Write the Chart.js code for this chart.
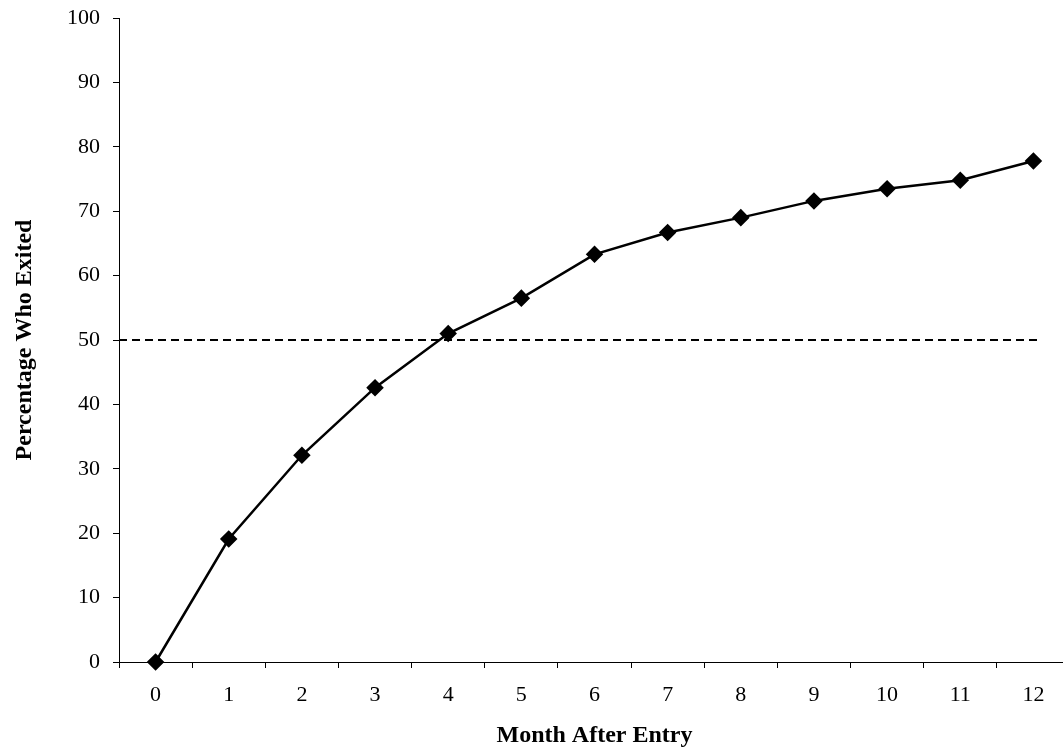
<!DOCTYPE html>
<html lang="en">

<head>
    <meta charset="utf-8" />
    <title>Percentage Who Exited</title>
    <script src="https://cdn.jsdelivr.net/npm/chart.js"></script>
    <style>
        html, body { margin: 0; padding: 0; background: #fff; overflow: hidden; }
        #wrap { width: 1075px; height: 750px; position: relative; }
    </style>
</head>

<body>
    <div id="wrap"><canvas id="chart"></canvas></div>

    <script>
        // months after entry (x categories)
        const months = ['0', '1', '2', '3', '4', '5', '6', '7', '8', '9', '10', '11', '12'];
        // percentage who exited
        const exited = [0, 19.1, 32.1, 42.6, 51.0, 56.5, 63.3, 66.7, 69.0, 71.6, 73.5, 74.8, 77.8];
        // reference line (half exited)
        const halfLine = 50;
        const yTicks = [0, 10, 20, 30, 40, 50, 60, 70, 80, 90, 100];

        const serif = '"Liberation Serif", "Times New Roman", serif';

        // dashed line at 50 from the y axis to just past the last point
        const refLine = {
            id: 'refLine',
            beforeDatasetsDraw(chart) {
                const { ctx, chartArea, scales } = chart;
                const y = Math.round(scales.y.getPixelForValue(halfLine));
                const xEnd = scales.x.getPixelForValue(months.length - 1) + 5;
                ctx.save();
                ctx.strokeStyle = '#000';
                ctx.lineWidth = 2;
                ctx.setLineDash([8, 5]);
                ctx.beginPath();
                ctx.moveTo(chartArea.left, y);
                ctx.lineTo(xEnd, y);
                ctx.stroke();
                ctx.restore();
            }
        };

        new Chart(document.getElementById('chart'), {
            type: 'line',
            data: {
                labels: months,
                datasets: [{
                    label: 'Percentage Who Exited',
                    data: exited,
                    borderColor: '#000',
                    backgroundColor: '#000',
                    borderWidth: 2.5,
                    pointStyle: 'rectRot',
                    pointRadius: 7,
                    pointHoverRadius: 7,
                    fill: false,
                    tension: 0,
                    clip: false
                }]
            },
            options: {
                responsive: true,
                maintainAspectRatio: false,
                animation: false,
                devicePixelRatio: 1,
                layout: { autoPadding: false, padding: { top: 18, right: 5, left: 0, bottom: 0 } },
                plugins: {
                    legend: { display: false },
                    tooltip: { enabled: false }
                },
                scales: {
                    x: {
                        offset: true,
                        grid: {
                            offset: true,
                            drawOnChartArea: false,
                            drawTicks: true,
                            tickLength: 6,
                            color: '#000'
                        },
                        border: { display: true, color: '#000', width: 1 },
                        ticks: {
                            color: '#000',
                            font: { family: serif, size: 22 },
                            padding: 14,
                            maxRotation: 0,
                            autoSkip: false
                        },
                        title: {
                            display: true,
                            text: 'Month After Entry',
                            color: '#000',
                            font: { family: serif, size: 24, weight: 'bold' },
                            padding: { top: 0, bottom: 0 }
                        },
                        afterFit(scale) {
                            scale.height = 88;
                            scale.paddingLeft = 0;
                            scale.paddingRight = 0;
                        }
                    },
                    y: {
                        min: 0,
                        max: 100,
                        afterBuildTicks(scale) { scale.ticks = yTicks.map(v => ({ value: v })); },
                        grid: {
                            drawOnChartArea: false,
                            drawTicks: true,
                            tickLength: 6,
                            color: '#000'
                        },
                        border: { display: true, color: '#000', width: 1 },
                        ticks: {
                            color: '#000',
                            font: { family: serif, size: 22 },
                            padding: 13
                        },
                        title: {
                            display: true,
                            text: 'Percentage Who Exited',
                            color: '#000',
                            font: { family: serif, size: 24, weight: 'bold' },
                            padding: { top: 10, bottom: 0 }
                        },
                        afterFit(scale) {
                            scale.width = 119;
                            scale.paddingTop = 0;
                            scale.paddingBottom = 0;
                        }
                    }
                }
            },
            plugins: [refLine]
        });
    </script>
</body>

</html>
